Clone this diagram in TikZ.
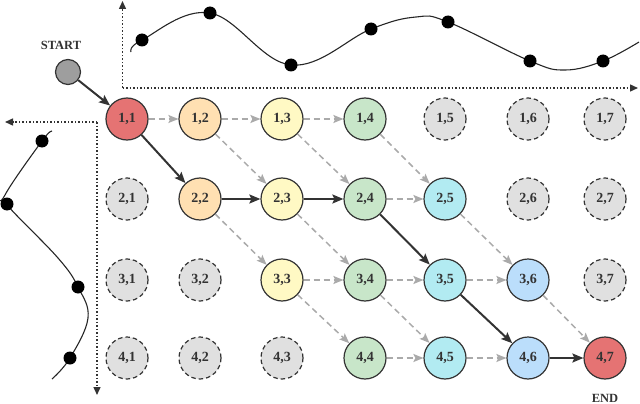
\documentclass[tikz,border=0pt]{standalone}
\usepackage{fontspec}
\setmainfont{Liberation Serif}
\usetikzlibrary{arrows.meta}
\definecolor{cRed}{HTML}{E57373}
\definecolor{cOrange}{HTML}{FFE0B2}
\definecolor{cYellow}{HTML}{FFF9C4}
\definecolor{cGreen}{HTML}{C8E6C9}
\definecolor{cCyan}{HTML}{B2EBF2}
\definecolor{cBlue}{HTML}{BBDEFB}
\definecolor{cGray}{HTML}{E0E0E0}
\definecolor{cStart}{HTML}{9E9E9E}
\definecolor{cDark}{HTML}{333333}
\definecolor{cEdge}{HTML}{AAAAAA}
\tikzset{
  cell/.style={circle, draw=cDark, line width=1.2pt, minimum size=42pt, inner sep=0pt,
    font=\fontsize{14}{14}\selectfont\bfseries, text=cDark},
  act/.style={cell},
  idle/.style={cell, fill=cGray, dash pattern=on 4.5pt off 3pt},
  pathedge/.style={draw=cDark, line width=2pt, -{Stealth[length=11pt,width=9pt,inset=2pt]}},
  altedge/.style={draw=cEdge, line width=1.5pt, dash pattern=on 6pt off 4pt,
    -{Stealth[length=10pt,width=8pt,inset=2pt]}},
  axis/.style={draw=cDark, line width=1.4pt, dash pattern=on 1.5pt off 2pt,
    -{Triangle[length=8pt,width=7pt]}},
  signal/.style={draw=black!85, line width=1.1pt},
  dot/.style={circle, fill=black, minimum size=13pt, inner sep=0pt},
  tag/.style={font=\fontsize{12.5}{12.5}\selectfont\bfseries, text=cDark}
}
\begin{document}
\begin{tikzpicture}[x=1pt,y=-1pt]
\useasboundingbox (0,0) rectangle (640,404);
% axes
\coordinate (oT) at (122.5,88);
\coordinate (tUp) at (122.5,1);
\coordinate (tRight) at (638,88);
\draw[axis] (oT) -- (tUp);
\draw[axis] (oT) -- (tRight);
\coordinate (oL) at (97,122);
\coordinate (lLeft) at (5,122);
\coordinate (lDown) at (97,395);
\draw[axis] (oL) -- (lLeft);
\draw[axis] (oL) -- (lDown);
% top signal
\draw[signal] plot[smooth, tension=0.65] coordinates {(131,52) (142,40) (210,13) (291,65) (371,29) (416,17) (448,22) (530,61) (565,70) (603,61) (639,42)};
\foreach \i/\p in {1/{(142,40)},2/{(210,13)},3/{(291,65)},4/{(371,29)},5/{(448,22)},6/{(530,61)},7/{(603,61)}}
  \node[dot] (td\i) at \p {};
% left signal
\draw[signal] plot[smooth, tension=0.65] coordinates {(52,131) (42,141) (5,195) (8,206) (58,258) (78,287) (88,318) (70,358) (52,379)};
\foreach \i/\p in {1/{(42,141)},2/{(7,204)},3/{(78,287)},4/{(70,358)}}
  \node[dot] (ld\i) at \p {};
% start
\node[circle, draw=cDark, line width=1.2pt, fill=cStart, minimum size=25pt, inner sep=0pt] (start) at (68,72) {};
\node[tag] (startlbl) at (61,45) {START};
% grid nodes
\node[act, fill=cRed] (n11) at (127,119) {1,1};
\node[act, fill=cOrange] (n12) at (200,119) {1,2};
\node[act, fill=cYellow] (n13) at (282,119) {1,3};
\node[act, fill=cGreen] (n14) at (365,119) {1,4};
\node[idle] (n15) at (445,119) {1,5};
\node[idle] (n16) at (528,119) {1,6};
\node[idle] (n17) at (605,119) {1,7};
\node[idle] (n21) at (127,199) {2,1};
\node[act, fill=cOrange] (n22) at (200,199) {2,2};
\node[act, fill=cYellow] (n23) at (282,199) {2,3};
\node[act, fill=cGreen] (n24) at (365,199) {2,4};
\node[act, fill=cCyan] (n25) at (445,199) {2,5};
\node[idle] (n26) at (528,199) {2,6};
\node[idle] (n27) at (605,199) {2,7};
\node[idle] (n31) at (127,280) {3,1};
\node[idle] (n32) at (200,280) {3,2};
\node[act, fill=cYellow] (n33) at (282,280) {3,3};
\node[act, fill=cGreen] (n34) at (365,280) {3,4};
\node[act, fill=cCyan] (n35) at (445,280) {3,5};
\node[act, fill=cBlue] (n36) at (528,280) {3,6};
\node[idle] (n37) at (605,280) {3,7};
\node[idle] (n41) at (127,358) {4,1};
\node[idle] (n42) at (200,358) {4,2};
\node[idle] (n43) at (282,358) {4,3};
\node[act, fill=cGreen] (n44) at (365,358) {4,4};
\node[act, fill=cCyan] (n45) at (445,358) {4,5};
\node[act, fill=cBlue] (n46) at (528,358) {4,6};
\node[act, fill=cRed] (n47) at (605,358) {4,7};
\node[tag] (endlbl) at (605,398) {END};
% alternative edges
\foreach \a/\b in {n11/n12, n12/n13, n13/n14, n12/n23, n13/n24, n14/n25, n24/n25,
  n22/n33, n23/n34, n25/n36, n33/n34, n34/n35, n35/n36, n33/n44, n34/n45, n36/n47,
  n44/n45, n45/n46}
  \draw[altedge] (\a) -- (\b);
% optimal path
\foreach \a/\b in {start/n11, n11/n22, n22/n23, n23/n24, n24/n35, n35/n46, n46/n47}
  \draw[pathedge] (\a) -- (\b);
\end{tikzpicture}
\end{document}
